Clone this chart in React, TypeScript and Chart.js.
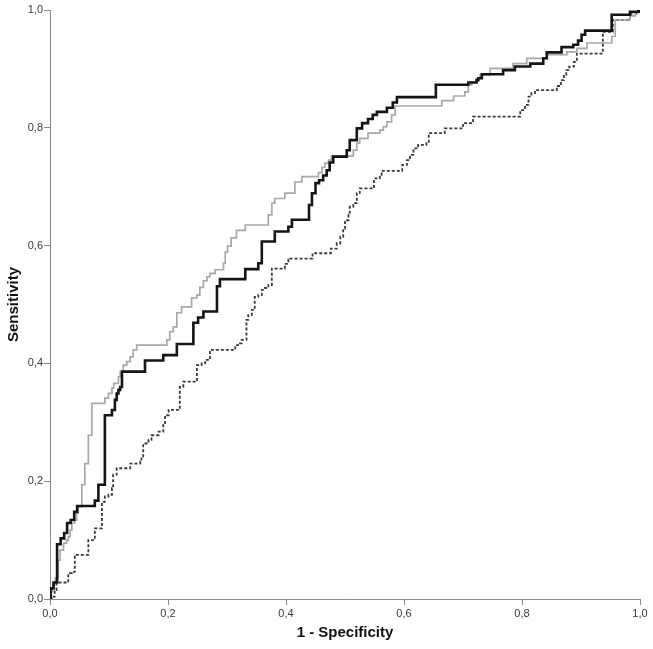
import React, { useEffect, useRef } from 'react';
import { Chart, registerables } from 'chart.js';

Chart.register(...registerables);

const tickValues = [0, 0.2, 0.4, 0.6, 0.8, 1.0];
const xTitle = '1 - Specificity';
const yTitle = 'Sensitivity';

// Series 1 (thick black): ROC points (1 - specificity, sensitivity)
const blackFpr = [0, 0.001, 0.006, 0.012, 0.018, 0.024, 0.029, 0.035, 0.041, 0.046, 0.076, 0.082, 0.093, 0.105, 0.110, 0.113, 0.116, 0.119, 0.122, 0.161, 0.192, 0.215, 0.243, 0.251, 0.260, 0.283, 0.288, 0.331, 0.353, 0.359, 0.381, 0.404, 0.410, 0.439, 0.444, 0.450, 0.456, 0.463, 0.469, 0.474, 0.480, 0.503, 0.508, 0.520, 0.529, 0.539, 0.547, 0.554, 0.571, 0.581, 0.588, 0.654, 0.709, 0.723, 0.726, 0.732, 0.768, 0.788, 0.814, 0.836, 0.842, 0.867, 0.887, 0.895, 0.901, 0.907, 0.952, 0.983, 1.0];
const blackSens = [0, 0.018, 0.028, 0.093, 0.103, 0.112, 0.129, 0.134, 0.148, 0.158, 0.167, 0.194, 0.312, 0.321, 0.338, 0.349, 0.355, 0.360, 0.386, 0.405, 0.414, 0.433, 0.469, 0.478, 0.488, 0.531, 0.543, 0.560, 0.570, 0.607, 0.624, 0.632, 0.644, 0.669, 0.689, 0.706, 0.711, 0.719, 0.728, 0.741, 0.751, 0.762, 0.779, 0.799, 0.808, 0.815, 0.822, 0.827, 0.834, 0.843, 0.852, 0.873, 0.877, 0.881, 0.884, 0.891, 0.898, 0.904, 0.909, 0.918, 0.928, 0.937, 0.941, 0.948, 0.958, 0.965, 0.992, 0.997, 1.0];

// Series 2 (gray)
const grayFpr = [0, 0.002, 0.005, 0.009, 0.014, 0.017, 0.023, 0.028, 0.031, 0.034, 0.037, 0.042, 0.045, 0.048, 0.054, 0.059, 0.065, 0.071, 0.093, 0.099, 0.105, 0.108, 0.116, 0.119, 0.124, 0.130, 0.136, 0.141, 0.147, 0.198, 0.203, 0.209, 0.215, 0.223, 0.240, 0.249, 0.254, 0.260, 0.266, 0.271, 0.280, 0.294, 0.297, 0.301, 0.307, 0.316, 0.331, 0.370, 0.376, 0.381, 0.398, 0.415, 0.427, 0.455, 0.461, 0.466, 0.472, 0.477, 0.514, 0.520, 0.525, 0.539, 0.559, 0.565, 0.571, 0.579, 0.585, 0.664, 0.684, 0.703, 0.709, 0.715, 0.723, 0.729, 0.746, 0.785, 0.808, 0.842, 0.876, 0.893, 0.910, 0.952, 0.958, 0.983, 0.992, 1.0];
const graySens = [0, 0.012, 0.024, 0.036, 0.066, 0.083, 0.095, 0.100, 0.106, 0.117, 0.129, 0.134, 0.146, 0.157, 0.194, 0.230, 0.278, 0.332, 0.341, 0.349, 0.358, 0.366, 0.377, 0.386, 0.397, 0.403, 0.411, 0.423, 0.431, 0.440, 0.454, 0.462, 0.486, 0.496, 0.511, 0.516, 0.529, 0.540, 0.547, 0.553, 0.559, 0.570, 0.589, 0.599, 0.613, 0.626, 0.635, 0.652, 0.672, 0.680, 0.689, 0.708, 0.717, 0.724, 0.733, 0.740, 0.745, 0.752, 0.762, 0.774, 0.782, 0.791, 0.796, 0.802, 0.810, 0.822, 0.837, 0.846, 0.854, 0.861, 0.873, 0.877, 0.883, 0.890, 0.901, 0.909, 0.918, 0.924, 0.929, 0.935, 0.944, 0.955, 0.983, 0.990, 0.996, 1.0];

// Series 3 (dotted)
const dotFpr = [0, 0.003, 0.008, 0.011, 0.031, 0.037, 0.042, 0.065, 0.076, 0.088, 0.093, 0.099, 0.105, 0.107, 0.113, 0.136, 0.153, 0.155, 0.158, 0.167, 0.172, 0.184, 0.192, 0.195, 0.201, 0.220, 0.226, 0.249, 0.257, 0.263, 0.271, 0.314, 0.322, 0.325, 0.333, 0.336, 0.342, 0.347, 0.353, 0.359, 0.364, 0.370, 0.376, 0.398, 0.404, 0.407, 0.445, 0.476, 0.486, 0.492, 0.497, 0.500, 0.506, 0.508, 0.514, 0.520, 0.525, 0.549, 0.559, 0.562, 0.597, 0.605, 0.610, 0.616, 0.624, 0.638, 0.642, 0.669, 0.700, 0.717, 0.797, 0.805, 0.811, 0.816, 0.822, 0.859, 0.866, 0.871, 0.875, 0.880, 0.888, 0.893, 0.937, 0.954, 0.983, 0.994, 1.0];
const dotSens = [0, 0.004, 0.015, 0.028, 0.044, 0.046, 0.075, 0.100, 0.120, 0.165, 0.174, 0.177, 0.188, 0.211, 0.222, 0.230, 0.233, 0.242, 0.264, 0.270, 0.278, 0.284, 0.295, 0.312, 0.321, 0.360, 0.369, 0.397, 0.400, 0.406, 0.423, 0.431, 0.434, 0.440, 0.474, 0.482, 0.491, 0.513, 0.516, 0.525, 0.528, 0.533, 0.561, 0.569, 0.576, 0.578, 0.587, 0.595, 0.604, 0.615, 0.629, 0.643, 0.652, 0.666, 0.672, 0.689, 0.697, 0.714, 0.720, 0.727, 0.737, 0.745, 0.754, 0.765, 0.771, 0.774, 0.791, 0.799, 0.808, 0.819, 0.830, 0.839, 0.853, 0.859, 0.864, 0.871, 0.881, 0.890, 0.898, 0.904, 0.912, 0.926, 0.963, 0.983, 0.994, 0.999, 1.0];

const toPoints = (xs: number[], ys: number[]) => xs.map((x, i) => ({ x, y: ys[i] }));
const fmt = (v: number) => Number(v).toFixed(1).replace('.', ',');

const FONT = "'Liberation Sans', Arial, sans-serif";
const AXIS_COLOR = '#8a8a8a';

export default function App() {
  const canvasRef = useRef<HTMLCanvasElement | null>(null);

  useEffect(() => {
    if (!canvasRef.current) return;
    const setTicks = (s: any) => {
      s.ticks = tickValues.map((v) => ({ value: v }));
    };
    const chart = new Chart(canvasRef.current, {
      type: 'line',
      data: {
        datasets: [
          {
            label: 'A',
            data: toPoints(blackFpr, blackSens),
            borderColor: '#151515',
            borderWidth: 2.6,
            stepped: 'before',
            pointRadius: 0,
            fill: false,
            order: 0,
          },
          {
            label: 'B',
            data: toPoints(grayFpr, graySens),
            borderColor: '#a8a8a8',
            borderWidth: 1.7,
            stepped: 'before',
            pointRadius: 0,
            fill: false,
            order: 1,
          },
          {
            label: 'C',
            data: toPoints(dotFpr, dotSens),
            borderColor: '#3a3a3a',
            borderWidth: 1.8,
            borderDash: [3, 2],
            stepped: 'before',
            pointRadius: 0,
            fill: false,
            order: 2,
          },
        ],
      },
      options: {
        animation: false,
        responsive: false,
        events: [],
        layout: { padding: { left: 0, right: 13, top: 10, bottom: 0 } },
        plugins: { legend: { display: false }, tooltip: { enabled: false } },
        scales: {
          x: {
            type: 'linear',
            min: 0,
            max: 1,
            afterBuildTicks: setTicks,
            afterFit: (s: any) => {
              s.height = 50;
            },
            ticks: {
              callback: (v: any) => fmt(v),
              color: '#3a3a3a',
              font: { family: FONT, size: 11 },
              padding: 2,
              maxRotation: 0,
            },
            grid: {
              drawOnChartArea: false,
              drawTicks: true,
              tickLength: 6,
              color: AXIS_COLOR,
              lineWidth: 1,
            },
            border: { display: true, color: AXIS_COLOR, width: 1 },
            title: {
              display: true,
              text: xTitle,
              color: '#111',
              font: { family: FONT, size: 15, weight: 'bold' },
              padding: { top: 0, bottom: 7 },
            },
          },
          y: {
            type: 'linear',
            min: 0,
            max: 1,
            afterBuildTicks: setTicks,
            afterFit: (s: any) => {
              s.width = 50;
            },
            ticks: {
              callback: (v: any) => fmt(v),
              color: '#3a3a3a',
              font: { family: FONT, size: 11 },
              padding: 1,
            },
            grid: {
              drawOnChartArea: false,
              drawTicks: true,
              tickLength: 6,
              color: AXIS_COLOR,
              lineWidth: 1,
            },
            border: { display: true, color: AXIS_COLOR, width: 1 },
            title: {
              display: true,
              text: yTitle,
              color: '#111',
              font: { family: FONT, size: 15, weight: 'bold' },
              padding: { top: 5, bottom: 0 },
            },
          },
        },
      },
    } as any);
    return () => chart.destroy();
  }, []);

  return (
    <div style={{ position: 'absolute', left: 0, top: 0, width: 653, height: 649, background: '#fff' }}>
      <canvas ref={canvasRef} width={653} height={649} style={{ display: 'block' }} />
    </div>
  );
}
